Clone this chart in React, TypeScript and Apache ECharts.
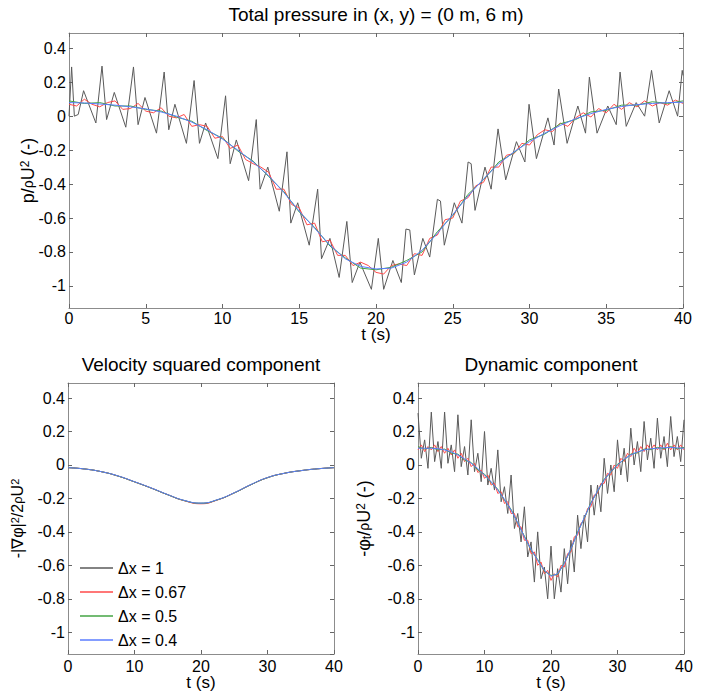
import React, { useEffect, useRef } from "react";
import * as echarts from "echarts";

const FONT = "'Liberation Sans', Arial, Helvetica, sans-serif";

const NAMES = ["Δx = 1", "Δx = 0.67", "Δx = 0.5", "Δx = 0.4"];
const COLORS = ["#5a5a5a", "#ff4a4a", "#44a544", "#5b7cff"];

const T1 = [0, 1, 2, 3, 4, 5, 6, 7, 8, 9, 10, 11, 12, 13, 14, 15, 16, 17, 18, 19, 20, 21, 22, 23, 24, 25, 26, 27, 28, 29, 30, 31, 32, 33, 34, 35, 36, 37, 38, 39, 40];
const T05 = [0, 0.5, 1, 1.5, 2, 2.5, 3, 3.5, 4, 4.5, 5, 5.5, 6, 6.5, 7, 7.5, 8, 8.5, 9, 9.5, 10, 10.5, 11, 11.5, 12, 12.5, 13, 13.5, 14, 14.5, 15, 15.5, 16, 16.5, 17, 17.5, 18, 18.5, 19, 19.5, 20, 20.5, 21, 21.5, 22, 22.5, 23, 23.5, 24, 24.5, 25, 25.5, 26, 26.5, 27, 27.5, 28, 28.5, 29, 29.5, 30, 30.5, 31, 31.5, 32, 32.5, 33, 33.5, 34, 34.5, 35, 35.5, 36, 36.5, 37, 37.5, 38, 38.5, 39, 39.5, 40];
const T25 = [0, 2.5, 5, 7.5, 10, 12.5, 15, 17.5, 20, 22.5, 25, 27.5, 30, 32.5, 35, 37.5, 40];

// ---- Total pressure ----
const totalBlack: [number, number][] = [
  [0, 0], [0.17, 0.29], [0.35, 0.0], [0.6, 0.01], [0.95, 0.15], [1.75, -0.04], [2.15, 0.295], [2.45, -0.02],
  [2.95, 0.14], [3.7, -0.065], [4.2, 0.29], [4.5, -0.05], [4.95, 0.11], [5.7, -0.1], [6.2, 0.26], [6.5, -0.08],
  [6.9, 0.07], [7.65, -0.16], [8.15, 0.21], [8.5, -0.16], [8.9, -0.04], [9.7, -0.25], [10.2, 0.12], [10.5, -0.28],
  [10.9, -0.14], [11.7, -0.38], [12.2, -0.02], [12.45, -0.43], [12.95, -0.3], [13.7, -0.56], [14.2, -0.21],
  [14.45, -0.63], [14.9, -0.51], [15.65, -0.76], [16.2, -0.43], [16.45, -0.84], [17.0, -0.72], [17.6, -0.95],
  [18.1, -0.62], [18.45, -0.98], [18.95, -0.86], [19.7, -1.02], [20.15, -0.72], [20.5, -1.02], [21.1, -0.85],
  [21.65, -0.98], [21.95, -0.665], [22.2, -0.67], [22.5, -0.935], [23.05, -0.72], [23.5, -0.83], [24.0, -0.49],
  [24.2, -0.5], [24.45, -0.76], [25.1, -0.51], [25.6, -0.63], [26.0, -0.27], [26.2, -0.28], [26.45, -0.555],
  [27.1, -0.3], [27.5, -0.43], [27.95, -0.075], [28.45, -0.375], [29.15, -0.15], [29.7, -0.27], [29.97, 0.07],
  [30.45, -0.25], [31.2, -0.01], [31.6, -0.17], [31.9, 0.16], [32.45, -0.16], [33.15, 0.06], [33.65, -0.1],
  [33.9, 0.23], [34.4, -0.1], [35.1, 0.06], [35.65, -0.05], [35.9, 0.26], [36.3, -0.06], [36.95, 0.08],
  [37.5, 0.0], [37.95, 0.27], [38.45, -0.04], [39.1, 0.15], [39.65, 0.0], [39.95, 0.27], [40, 0.24],
];
const totalRed = [
  0.07, 0.06, 0.10, 0.07, 0.055, 0.08, 0.09, 0.04, 0.045, 0.075, 0.03, 0.02, 0.05, 0.0, -0.01, 0.01,
  -0.06, -0.05, -0.06, -0.13, -0.12, -0.19, -0.17, -0.255, -0.28, -0.3, -0.33, -0.43, -0.43, -0.52,
  -0.54, -0.64, -0.63, -0.74, -0.73, -0.82, -0.82, -0.88, -0.86, -0.88, -0.92, -0.93, -0.88, -0.87,
  -0.88, -0.81, -0.82, -0.72, -0.7, -0.61, -0.6, -0.5, -0.48, -0.41, -0.39, -0.3, -0.3, -0.23, -0.22,
  -0.16, -0.17, -0.11, -0.08, -0.09, -0.04, -0.06, -0.01, 0.02, -0.005, 0.045, 0.02, 0.07, 0.04, 0.08,
  0.055, 0.09, 0.06, 0.08, 0.065, 0.095, 0.075,
];
const totalGreen = [
  0.09, 0.075, 0.08, 0.06, 0.06, 0.04, 0.03, -0.005, -0.03, -0.085, -0.13, -0.205, -0.265, -0.355,
  -0.445, -0.565, -0.655, -0.765, -0.835, -0.895, -0.905, -0.89, -0.85, -0.8, -0.68, -0.585, -0.46,
  -0.375, -0.27, -0.215, -0.14, -0.105, -0.045, -0.02, 0.025, 0.035, 0.065, 0.065, 0.085, 0.075, 0.09,
];
const totalBlue = [
  0.08, 0.078, 0.072, 0.065, 0.055, 0.043, 0.025, 0.0, -0.035, -0.08, -0.135, -0.2, -0.27, -0.35,
  -0.45, -0.56, -0.66, -0.76, -0.84, -0.885, -0.9, -0.895, -0.86, -0.79, -0.69, -0.58, -0.47, -0.37,
  -0.28, -0.21, -0.15, -0.1, -0.055, -0.015, 0.015, 0.04, 0.057, 0.068, 0.075, 0.08, 0.082,
];

// ---- Velocity squared component ----
const velBlack = [-0.016, -0.024, -0.04, -0.066, -0.101, -0.138, -0.178, -0.213, -0.229, -0.208, -0.167, -0.118, -0.076, -0.05, -0.034, -0.023, -0.016];
const velRed = [-0.016, -0.024, -0.04, -0.066, -0.101, -0.138, -0.178, -0.214, -0.232, -0.209, -0.167, -0.118, -0.076, -0.05, -0.034, -0.023, -0.016];
const velGreen = [-0.016, -0.024, -0.04, -0.066, -0.101, -0.138, -0.178, -0.213, -0.229, -0.208, -0.167, -0.118, -0.076, -0.05, -0.034, -0.023, -0.016];
const velBlue = [-0.016, -0.024, -0.04, -0.065, -0.1, -0.137, -0.177, -0.212, -0.228, -0.207, -0.166, -0.117, -0.075, -0.05, -0.034, -0.023, -0.016];

// ---- Dynamic component ----
const dynBlack = [
  0.31, 0.04, 0.15, -0.02, 0.316, 0.02, 0.14, -0.02, 0.316, 0.01, 0.12, -0.04, 0.3, -0.01, 0.11, -0.06,
  0.27, -0.04, 0.07, -0.1, 0.2, -0.12, -0.02, -0.15, 0.09, -0.22, -0.13, -0.29, -0.06, -0.38, -0.29,
  -0.46, -0.25, -0.55, -0.46, -0.7, -0.4, -0.68, -0.61, -0.8, -0.485, -0.8, -0.62, -0.76, -0.5, -0.71,
  -0.45, -0.64, -0.3, -0.5, -0.3, -0.46, -0.12, -0.3, -0.12, -0.28, 0.04, -0.17, 0.0, -0.16, 0.15,
  -0.06, 0.1, -0.1, 0.22, 0.0, 0.14, -0.04, 0.26, 0.03, 0.16, -0.02, 0.28, 0.04, 0.17, -0.01, 0.29,
  0.05, 0.17, 0.02, 0.27,
];
const dynRed = [
  0.09, 0.12, 0.08, 0.11, 0.09, 0.12, 0.08, 0.11, 0.07, 0.1, 0.06, 0.09, 0.04, 0.07, 0.02, 0.04, -0.01,
  0.01, -0.045, -0.03, -0.08, -0.06, -0.12, -0.11, -0.17, -0.16, -0.23, -0.22, -0.29, -0.29, -0.37,
  -0.37, -0.45, -0.45, -0.53, -0.52, -0.6, -0.58, -0.65, -0.63, -0.69, -0.65, -0.67, -0.6, -0.61,
  -0.53, -0.52, -0.43, -0.42, -0.35, -0.33, -0.26, -0.25, -0.18, -0.17, -0.11, -0.11, -0.05, -0.06,
  0.0, -0.02, 0.04, 0.02, 0.07, 0.05, 0.1, 0.07, 0.11, 0.08, 0.12, 0.09, 0.12, 0.09, 0.12, 0.09, 0.13,
  0.09, 0.12, 0.09, 0.12, 0.09,
];
const dynGreen = [
  0.11, 0.095, 0.105, 0.09, 0.095, 0.07, 0.065, 0.03, 0.015, -0.03, -0.055, -0.105, -0.145, -0.21,
  -0.265, -0.35, -0.425, -0.51, -0.565, -0.635, -0.66, -0.655, -0.585, -0.505, -0.4, -0.32, -0.225,
  -0.16, -0.085, -0.045, 0.005, 0.03, 0.065, 0.073, 0.095, 0.092, 0.105, 0.098, 0.11, 0.097, 0.105,
];
const dynBlue = [
  0.1, 0.1, 0.1, 0.097, 0.09, 0.078, 0.06, 0.037, 0.01, -0.022, -0.06, -0.1, -0.15, -0.205, -0.27,
  -0.345, -0.43, -0.505, -0.57, -0.63, -0.665, -0.65, -0.59, -0.5, -0.405, -0.315, -0.23, -0.155,
  -0.09, -0.04, 0.0, 0.035, 0.06, 0.078, 0.09, 0.097, 0.1, 0.103, 0.105, 0.102, 0.1,
];

const Y_MIN = -1.13;
const Y_MAX = 0.49;

const zip = (t: number[], v: number[]) => t.map((x, i) => [x, v[i]]);

const AXIS_COLOR = "#8c8c8c";
const LABEL_SIZE = 16;

function xAxes(grid: number, interval: number, nameGap: number, labelMargin: number) {
  const common = {
    type: "value",
    gridIndex: grid,
    min: 0,
    max: 40,
    interval,
    axisLine: { show: true, onZero: false, lineStyle: { color: AXIS_COLOR, width: 1 } },
    axisTick: { show: true, inside: true, length: 4, lineStyle: { color: "#666" } },
    splitLine: { show: false },
  };
  return [
    {
      ...common,
      position: "bottom",
      name: "t (s)",
      nameLocation: "middle",
      nameGap,
      nameMoveOverlap: false,
      nameTextStyle: { fontSize: 17, color: "#000", fontFamily: FONT },
      axisLabel: { color: "#000", fontSize: LABEL_SIZE, margin: labelMargin, fontFamily: FONT },
    },
    { ...common, position: "top", axisLabel: { show: false } },
  ];
}

function yAxes(grid: number, name: string, nameGap: number, fontSize: number, rich: any) {
  const common = {
    type: "value",
    gridIndex: grid,
    min: Y_MIN,
    max: Y_MAX,
    splitNumber: 8,
    axisLine: { show: true, onZero: false, lineStyle: { color: AXIS_COLOR, width: 1 } },
    axisTick: { show: true, inside: true, length: 4, lineStyle: { color: "#666" } },
    splitLine: { show: false },
  };
  return [
    {
      ...common,
      position: "left",
      name,
      nameLocation: "middle",
      nameGap,
      nameMoveOverlap: false,
      nameTextStyle: { fontSize, color: "#000", fontFamily: FONT, rich },
      axisLabel: {
        color: "#000",
        fontSize: LABEL_SIZE,
        margin: 3,
        fontFamily: FONT,
        showMinLabel: false,
        showMaxLabel: false,
      },
    },
    { ...common, position: "right", axisLabel: { show: false } },
  ];
}

function lineSeries(name: string, color: string, xi: number, yi: number, data: any[], smooth = false) {
  return {
    type: "line",
    name,
    xAxisIndex: xi,
    yAxisIndex: yi,
    data,
    symbol: "none",
    smooth,
    lineStyle: { color, width: 1 },
    itemStyle: { color },
    silent: true,
  };
}

export default function App() {
  const ref = useRef<HTMLDivElement>(null);
  useEffect(() => {
    const chart = echarts.init(ref.current!, null, { renderer: "svg" });
    const titleStyle = { fontSize: 19, fontWeight: "normal", color: "#000", fontFamily: FONT };
    const richBig = {
      r: { fontSize: 14, fontFamily: FONT, color: "#000" },
      sup: { fontSize: 12, fontFamily: FONT, color: "#000", verticalAlign: "top" },
      sub: { fontSize: 12, fontFamily: FONT, color: "#000", verticalAlign: "bottom" },
    };
    const richSmall = {
      r: { fontSize: 13, fontFamily: FONT, color: "#000" },
      sup: { fontSize: 11, fontFamily: FONT, color: "#000", verticalAlign: "top" },
    };
    const option: any = {
      animation: false,
      backgroundColor: "#fff",
      title: [
        { text: "Total pressure in (x, y) = (0 m, 6 m)", left: 376, top: 5, padding: 0, textAlign: "center", textStyle: titleStyle },
        { text: "Velocity squared component", left: 201, top: 355, padding: 0, textAlign: "center", textStyle: titleStyle },
        { text: "Dynamic component", left: 551, top: 355, padding: 0, textAlign: "center", textStyle: titleStyle },
      ],
      legend: {
        data: NAMES,
        orient: "vertical",
        left: 80,
        top: 560,
        padding: 0,
        icon: "rect",
        itemWidth: 33,
        itemHeight: 1.5,
        itemGap: 8,
        selectedMode: false,
        textStyle: { fontSize: 16, color: "#000", fontFamily: FONT },
      },
      grid: [
        { left: 69, top: 33, width: 614, height: 275, containLabel: false },
        { left: 68, top: 383, width: 266, height: 271, containLabel: false },
        { left: 418, top: 383, width: 266, height: 271, containLabel: false },
      ],
      xAxis: [...xAxes(0, 5, 18, 2), ...xAxes(1, 10, 20, 4), ...xAxes(2, 10, 20, 4)],
      yAxis: [
        ...yAxes(0, "p/{r|ρ}U{sup|2} (-)", 32, 18, richBig),
        ...yAxes(1, "-|∇φ|{sup|2}/2{r|ρ}U{sup|2}", 43, 16, richSmall),
        ...yAxes(2, "-φ{sub|t}/{r|ρ}U{sup|2} (-)", 45, 18, richBig),
      ],
      series: [
        lineSeries(NAMES[0], COLORS[0], 0, 0, totalBlack),
        lineSeries(NAMES[1], COLORS[1], 0, 0, zip(T05, totalRed)),
        lineSeries(NAMES[2], COLORS[2], 0, 0, zip(T1, totalGreen)),
        lineSeries(NAMES[3], COLORS[3], 0, 0, zip(T1, totalBlue)),
        lineSeries(NAMES[0], COLORS[0], 2, 2, zip(T25, velBlack), true),
        lineSeries(NAMES[1], COLORS[1], 2, 2, zip(T25, velRed), true),
        lineSeries(NAMES[2], COLORS[2], 2, 2, zip(T25, velGreen), true),
        lineSeries(NAMES[3], COLORS[3], 2, 2, zip(T25, velBlue), true),
        lineSeries(NAMES[0], COLORS[0], 4, 4, zip(T05, dynBlack)),
        lineSeries(NAMES[1], COLORS[1], 4, 4, zip(T05, dynRed)),
        lineSeries(NAMES[2], COLORS[2], 4, 4, zip(T1, dynGreen)),
        lineSeries(NAMES[3], COLORS[3], 4, 4, zip(T1, dynBlue)),
      ],
    };
    chart.setOption(option);
    return () => chart.dispose();
  }, []);
  return (
    <div
      ref={ref}
      style={{ width: 707, height: 693, position: "absolute", left: 0, top: 0, background: "#fff" }}
    />
  );
}
